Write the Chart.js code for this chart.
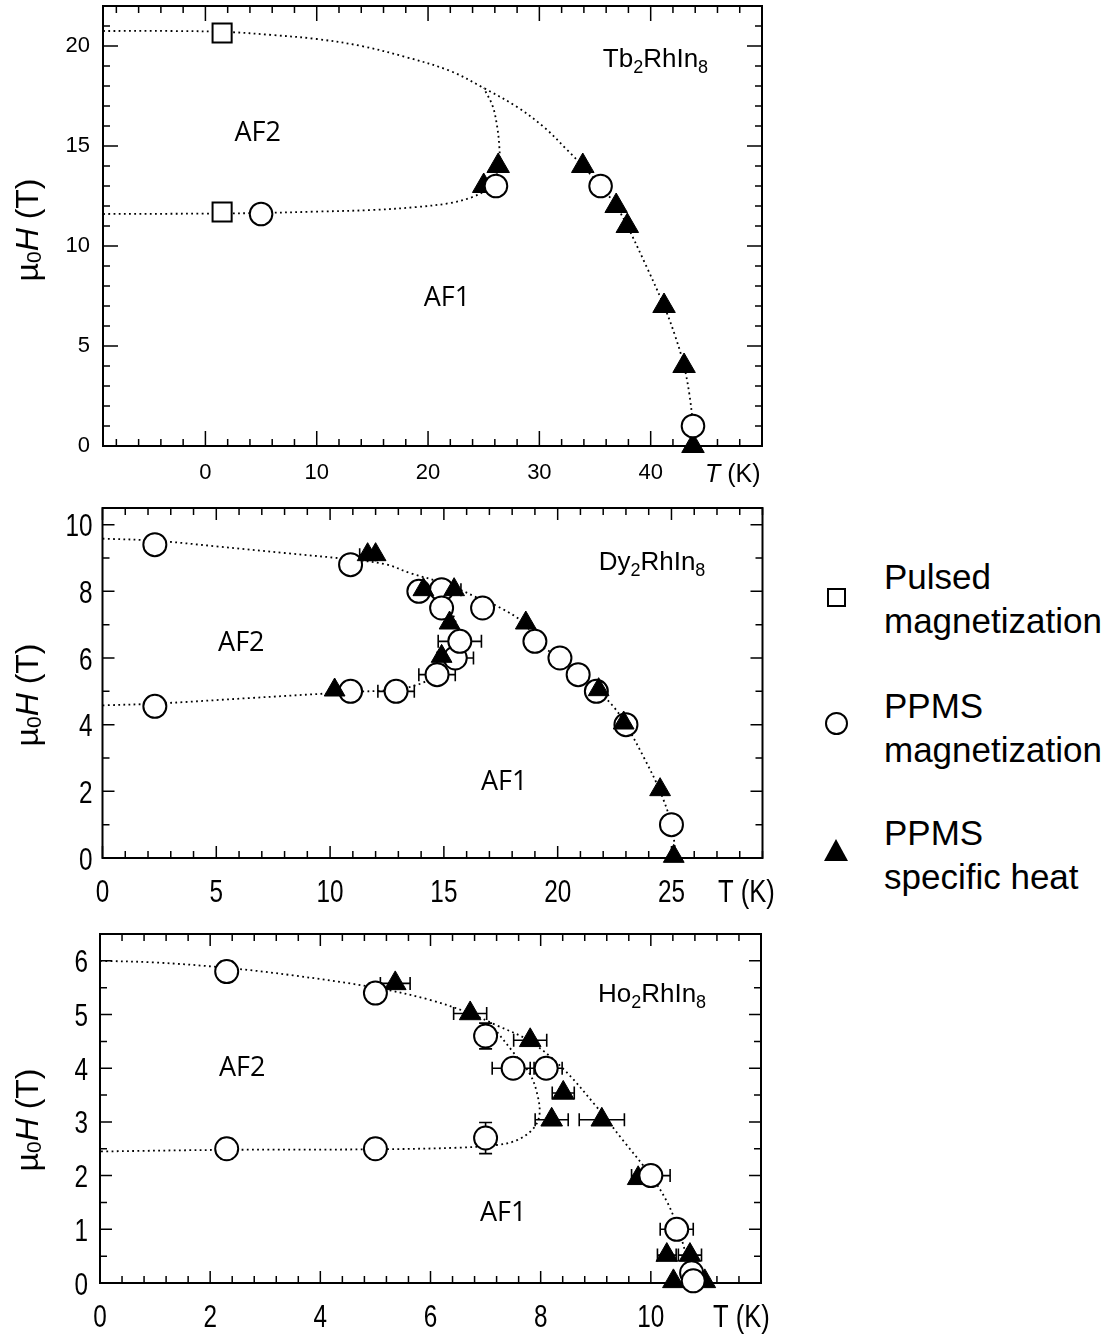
<!DOCTYPE html>
<html>
<head>
<meta charset="utf-8">
<script src="https://cdn.jsdelivr.net/npm/chart.js@4.4.1/dist/chart.umd.min.js"></script>
<style>
  body { margin: 0; background: #fff; width: 1115px; height: 1336px; position: relative; overflow: hidden; }
  .panel { position: absolute; left: 0; width: 800px; }
  #p1 { top: 0; height: 500px; }
  #p2 { top: 500px; height: 420px; }
  #p3 { top: 920px; height: 416px; }
  .sym { position: absolute; box-sizing: border-box; }
  .lt { position: absolute; left: 884px; font: 35px 'Liberation Sans', Arial, sans-serif; line-height: 35px; white-space: nowrap; color: #000; }
</style>
</head>
<body>
<div class="panel" id="p1"><canvas id="c1"></canvas></div>
<div class="panel" id="p2"><canvas id="c2"></canvas></div>
<div class="panel" id="p3"><canvas id="c3"></canvas></div>

<div class="sym" style="left:827px;top:588px;width:19px;height:19px;border:2px solid #000;"></div>
<div class="sym" style="left:825px;top:712px;width:23px;height:23px;border:2px solid #000;border-radius:50%;"></div>
<div class="sym" style="left:824px;top:839px;width:0;height:0;border-left:12.5px solid transparent;border-right:12.5px solid transparent;border-bottom:22px solid #000;"></div>
<div class="lt" style="top:559px">Pulsed</div>
<div class="lt" style="top:603px">magnetization</div>
<div class="lt" style="top:688px">PPMS</div>
<div class="lt" style="top:732px">magnetization</div>
<div class="lt" style="top:815px">PPMS</div>
<div class="lt" style="top:859px">specific heat</div>

<script>
const FONT_SANS = "'Liberation Sans', Arial, sans-serif";
const FONT_AF = "'Open Sans', 'Liberation Sans', sans-serif";

// ---------- Tb2RhIn8 ----------
const tbTicksX = [0, 10, 20, 30, 40];
const tbTicksY = [0, 5, 10, 15, 20];
const tbPulsed = [{x: 1.5, y: 20.65}, {x: 1.5, y: 11.7}];
const tbMagnet = [{x: 5.0, y: 11.6}, {x: 26.1, y: 13.0}, {x: 35.5, y: 13.0}, {x: 43.8, y: 1.0}];
const tbHeat = [
  {x: 25.0, y: 13.0}, {x: 26.3, y: 14.0}, {x: 33.9, y: 14.0}, {x: 36.9, y: 12.0},
  {x: 37.9, y: 11.0}, {x: 41.2, y: 7.0}, {x: 43.0, y: 4.0}, {x: 43.8, y: 0}
];
const tbUpperLine = [
  [-9.2, 20.75], [-3, 20.75], [2, 20.7], [6, 20.55], [10, 20.35], [14, 20.0], [18, 19.45],
  [22, 18.75], [25, 17.9], [28, 16.95], [30.5, 15.9], [32.5, 14.8], [33.9, 14.0], [35.5, 13.0],
  [36.9, 12.0], [37.9, 11.0], [39.6, 9.0], [41.2, 7.0], [42.2, 5.5], [43.0, 4.0], [43.5, 2.5],
  [43.8, 1.0], [43.9, 0]
];
const tbLowerLine = [
  [-9.2, 11.6], [0, 11.62], [5, 11.65], [10, 11.72], [15, 11.8], [19, 11.95], [22, 12.15],
  [24, 12.45], [25.3, 12.85], [26.0, 13.4], [26.4, 14.2], [26.4, 15.0], [26.2, 16.0],
  [25.8, 17.0], [25.0, 17.9]
];

// ---------- Dy2RhIn8 ----------
const dyTicksX = [0, 5, 10, 15, 20, 25];
const dyTicksY = [0, 2, 4, 6, 8, 10];
const dyMagnet = [
  {x: 2.3, y: 9.4}, {x: 2.3, y: 4.55}, {x: 10.9, y: 8.8}, {x: 10.9, y: 5.0},
  {x: 12.9, y: 5.0, xe: 0.8}, {x: 13.9, y: 8.0}, {x: 14.9, y: 8.05}, {x: 14.9, y: 7.5},
  {x: 14.7, y: 5.5, xe: 0.8}, {x: 15.5, y: 6.0, xe: 0.8}, {x: 15.7, y: 6.5, xe: 0.95},
  {x: 16.7, y: 7.5}, {x: 19.0, y: 6.5}, {x: 20.1, y: 6.0}, {x: 20.9, y: 5.5},
  {x: 21.7, y: 5.0}, {x: 23.0, y: 4.0}, {x: 25.0, y: 1.0}
];
const dyHeat = [
  {x: 11.65, y: 9.1, xe: 0.35}, {x: 12.0, y: 9.1}, {x: 14.1, y: 8.05, xe: 0.35},
  {x: 15.45, y: 8.05, xe: 0.3}, {x: 15.25, y: 7.05}, {x: 14.9, y: 6.05}, {x: 10.2, y: 5.04},
  {x: 18.6, y: 7.05}, {x: 21.8, y: 5.05}, {x: 22.9, y: 4.05}, {x: 24.5, y: 2.05}, {x: 25.1, y: 0.05}
];
const dyUpperLine = [
  [0, 9.58], [2.3, 9.52], [5, 9.35], [8, 9.15], [11, 8.95], [12.5, 8.8], [13.5, 8.55],
  [15.2, 8.2], [16.5, 7.8], [17.5, 7.5], [18.6, 7.0], [19.0, 6.5], [20.1, 6.0], [20.9, 5.5],
  [21.8, 5.0], [22.5, 4.5], [23.0, 4.0], [23.8, 3.0], [24.5, 2.0], [25.0, 1.0], [25.2, 0]
];
const dyLowerLine = [
  [0, 4.58], [2.3, 4.63], [6.5, 4.8], [10.2, 4.95], [11, 4.98], [13, 5.07], [14.2, 5.3],
  [14.9, 5.75], [15.4, 6.3], [15.6, 6.8], [15.4, 7.3], [15.1, 7.75], [14.9, 8.25]
];

// ---------- Ho2RhIn8 ----------
const hoTicksX = [0, 2, 4, 6, 8, 10];
const hoTicksY = [0, 1, 2, 3, 4, 5, 6];
const hoMagnet = [
  {x: 2.3, y: 5.8, ye: 0.19}, {x: 5.0, y: 5.4, ye: 0.19}, {x: 7.0, y: 4.6, ye: 0.24},
  {x: 7.5, y: 4.0, xe: 0.38}, {x: 8.1, y: 4.0, xe: 0.29}, {x: 7.0, y: 2.7, ye: 0.29},
  {x: 5.0, y: 2.5, ye: 0.19}, {x: 2.3, y: 2.5, ye: 0.19}, {x: 10.0, y: 2.0, xe: 0.35},
  {x: 10.47, y: 1.0, xe: 0.3}, {x: 10.74, y: 0.19}, {x: 10.77, y: 0.04}
];
const hoHeat = [
  {x: 5.36, y: 5.58, xe: 0.27}, {x: 6.72, y: 5.02, xe: 0.3}, {x: 7.81, y: 4.52, xe: 0.3},
  {x: 8.41, y: 3.54, xe: 0.2}, {x: 8.2, y: 3.04, xe: 0.3}, {x: 9.11, y: 3.04, xe: 0.41},
  {x: 9.77, y: 1.95}, {x: 10.29, y: 0.52, xe: 0.17}, {x: 10.71, y: 0.52, xe: 0.21},
  {x: 10.41, y: 0.03}, {x: 10.98, y: 0.03}
];
const hoUpperLine = [
  [0, 6.0], [1, 5.97], [2.3, 5.87], [3.5, 5.73], [5, 5.5], [6, 5.27], [6.72, 5.02], [7.2, 4.8],
  [7.81, 4.5], [8.4, 4.0], [9.0, 3.3], [9.5, 2.65], [10.0, 2.0], [10.3, 1.5], [10.5, 1.0],
  [10.65, 0.5], [10.8, 0]
];
const hoBranchLine = [
  [7.15, 4.75], [7.5, 4.3], [7.8, 3.9], [7.93, 3.55], [7.98, 3.15], [7.87, 2.88], [7.57, 2.66],
  [7.2, 2.57], [6.5, 2.52], [5, 2.49], [2.3, 2.48], [0, 2.45]
];

// draws a run of text pieces (font / vertical shift), optionally squeezed horizontally
function drawRich(ctx, parts, x, y, align, sx) {
  sx = sx || 1;
  let w = 0;
  parts.forEach(p => { ctx.font = p.font; w += ctx.measureText(p.t).width; });
  let cx = align === 'center' ? -w / 2 : align === 'right' ? -w : 0;
  ctx.save();
  ctx.translate(x, y);
  ctx.scale(sx, 1);
  parts.forEach(p => {
    ctx.font = p.font;
    ctx.fillText(p.t, cx, p.dy || 0);
    cx += ctx.measureText(p.t).width;
  });
  ctx.restore();
}

const framePlugin = {
  id: 'frame',
  beforeDatasetsDraw(chart, args, o) {
    const {ctx, chartArea: a, scales: {x, y}} = chart;
    ctx.save();
    ctx.strokeStyle = '#000';
    ctx.lineWidth = 1.5;
    ctx.beginPath();
    const isMajor = (v, list) => list.some(m => Math.abs(m - v) < 1e-6);
    for (let i = 0; ; i++) {
      const v = o.minorX0 + i * o.minorX;
      if (v > x.max + 1e-6) break;
      if (v < x.min) continue;
      const len = isMajor(v, o.ticksX) ? o.majorLen : o.minorLen;
      const px = x.getPixelForValue(v);
      ctx.moveTo(px, a.bottom); ctx.lineTo(px, a.bottom - len);
      ctx.moveTo(px, a.top); ctx.lineTo(px, a.top + len);
    }
    for (let i = 0; ; i++) {
      const v = y.min + i * o.minorY;
      if (v > y.max + 1e-6) break;
      const len = isMajor(v, o.ticksY) ? o.majorLen : o.minorLen;
      const py = y.getPixelForValue(v);
      ctx.moveTo(a.left, py); ctx.lineTo(a.left + len, py);
      ctx.moveTo(a.right, py); ctx.lineTo(a.right - len, py);
    }
    ctx.stroke();
    ctx.lineWidth = 2;
    ctx.strokeRect(a.left, a.top, a.right - a.left, a.bottom - a.top);

    // error bars (drawn under the markers)
    ctx.lineWidth = 1.6;
    ctx.beginPath();
    chart.data.datasets.forEach(ds => {
      ds.data.forEach(p => {
        const px = x.getPixelForValue(p.x), py = y.getPixelForValue(p.y);
        if (p.xe) {
          const l = x.getPixelForValue(p.x - p.xe), r = x.getPixelForValue(p.x + p.xe);
          ctx.moveTo(l, py); ctx.lineTo(r, py);
          ctx.moveTo(l, py - 6.5); ctx.lineTo(l, py + 6.5);
          ctx.moveTo(r, py - 6.5); ctx.lineTo(r, py + 6.5);
        }
        if (p.ye) {
          const t = y.getPixelForValue(p.y + p.ye), b = y.getPixelForValue(p.y - p.ye);
          ctx.moveTo(px, t); ctx.lineTo(px, b);
          ctx.moveTo(px - 6.5, t); ctx.lineTo(px + 6.5, t);
          ctx.moveTo(px - 6.5, b); ctx.lineTo(px + 6.5, b);
        }
      });
    });
    ctx.stroke();
    ctx.restore();
  },
  afterDraw(chart, args, o) {
    const {ctx, chartArea: a, scales: {x, y}} = chart;
    ctx.save();
    ctx.fillStyle = '#000';
    ctx.textBaseline = 'alphabetic';

    // condensed tick labels, placed by the chart's own scales
    if (o.squeeze) {
      const f = o.tickFont;
      x.ticks.forEach(t => {
        drawRich(ctx, [{t: String(t.value), font: f}], x.getPixelForValue(t.value), a.bottom + o.xLabelDy, 'center', o.squeeze);
      });
      y.ticks.forEach(t => {
        drawRich(ctx, [{t: String(t.value), font: f}], a.left - o.yLabelGap, y.getPixelForValue(t.value) + 11.5, 'right', o.squeeze);
      });
    }

    o.labels.forEach(l => {
      drawRich(ctx, [{t: l.t, font: l.font}], x.getPixelForValue(l.x), y.getPixelForValue(l.y), 'center');
    });
    const f = o.compoundFont, s = o.compoundSub;
    drawRich(ctx, [
      {t: o.compound, font: f}, {t: '2', font: s, dy: 6},
      {t: 'RhIn', font: f}, {t: '8', font: s, dy: 6}
    ], x.getPixelForValue(o.compoundAt[0]), y.getPixelForValue(o.compoundAt[1]), 'left');

    drawRich(ctx, o.xTitle, o.xTitleAt[0], o.xTitleAt[1], 'left', o.xTitleSqueeze);

    ctx.translate(o.yTitleAt[0], o.yTitleAt[1]);
    ctx.rotate(-Math.PI / 2);
    drawRich(ctx, [
      {t: 'µ', font: '32px ' + FONT_SANS}, {t: '0', font: '21px ' + FONT_SANS, dy: 3},
      {t: 'H', font: 'italic 32px ' + FONT_SANS}, {t: ' (T)', font: '32px ' + FONT_SANS}
    ], 0, 0, 'center');
    ctx.restore();
  }
};

function lineSet(pts) {
  return {
    data: pts.map(([x, y]) => ({x, y})), showLine: true, borderColor: '#000',
    borderWidth: 1.8, borderDash: [1.8, 3.4], pointRadius: 0, pointHoverRadius: 0,
    tension: 0.35, fill: false, order: 5, clip: false
  };
}
function markerSet(pts, style, fill, r, order) {
  return {
    data: pts, pointStyle: style, pointRadius: r, pointHoverRadius: r,
    pointBackgroundColor: fill, pointBorderColor: '#000', pointBorderWidth: fill === '#000' ? 1 : 2,
    showLine: false, order, clip: false
  };
}

function makePanel(id, p) {
  const tickOpts = {
    display: !p.frame.squeeze, font: {family: FONT_SANS, size: p.tickSize}, color: '#000',
    maxRotation: 0, autoSkip: false
  };
  new Chart(document.getElementById(id), {
    type: 'scatter',
    data: {datasets: p.datasets},
    options: {
      responsive: true, maintainAspectRatio: false, animation: false, devicePixelRatio: 1,
      events: [],
      layout: {padding: p.padding, autoPadding: false},
      plugins: {
        legend: {display: false}, tooltip: {enabled: false},
        frame: p.frame
      },
      scales: {
        x: {
          type: 'linear', min: p.xMin, max: p.xMax,
          afterBuildTicks: s => { s.ticks = p.frame.ticksX.map(v => ({value: v})); },
          afterFit: s => { s.height = 40; s.paddingLeft = 0; s.paddingRight = 0; },
          grid: {display: false, drawTicks: false}, border: {display: false},
          ticks: Object.assign({padding: p.xPad}, tickOpts)
        },
        y: {
          type: 'linear', min: 0, max: p.yMax,
          afterBuildTicks: s => { s.ticks = p.frame.ticksY.map(v => ({value: v})); },
          afterFit: s => { s.width = 60; s.paddingTop = 0; s.paddingBottom = 0; },
          grid: {display: false, drawTicks: false}, border: {display: false},
          ticks: Object.assign({padding: p.yPad}, tickOpts)
        }
      }
    },
    plugins: [framePlugin]
  });
}

const narrowTitle = [{t: 'T (K)', font: '32px ' + FONT_SANS}];

makePanel('c1', {
  xMin: -9.2, xMax: 50, yMax: 22,
  padding: {left: 43, right: 38, top: 6, bottom: 14},
  tickSize: 22, xPad: 14, yPad: 13,
  datasets: [
    lineSet(tbUpperLine), lineSet(tbLowerLine),
    markerSet(tbHeat, 'triangle', '#000', 13, 3),
    markerSet(tbMagnet, 'circle', '#fff', 11.3, 2),
    markerSet(tbPulsed, 'rect', '#fff', 13.5, 1)
  ],
  frame: {
    ticksX: tbTicksX, ticksY: tbTicksY, minorX0: -8, minorX: 2, minorY: 1, majorLen: 15, minorLen: 7,
    squeeze: 0,
    labels: [
      {t: 'AF2', x: 4.7, y: 15.25, font: '27px ' + FONT_AF},
      {t: 'AF1', x: 21.7, y: 7.0, font: '27px ' + FONT_AF}
    ],
    compound: 'Tb', compoundAt: [35.7, 18.97],
    compoundFont: '26px ' + FONT_SANS, compoundSub: '18px ' + FONT_SANS,
    xTitle: [{t: 'T', font: 'italic 25px ' + FONT_SANS}, {t: ' (K)', font: '25px ' + FONT_SANS}],
    xTitleAt: [705, 482], xTitleSqueeze: 1,
    yTitleAt: [38, 230]
  }
});

makePanel('c2', {
  xMin: 0, xMax: 29, yMax: 10.5,
  padding: {left: 42.5, right: 37.5, top: 8, bottom: 22},
  tickSize: 32, xPad: 14, yPad: 10,
  datasets: [
    lineSet(dyUpperLine), lineSet(dyLowerLine),
    markerSet(dyMagnet, 'circle', '#fff', 11.5, 3),
    markerSet(dyHeat, 'triangle', '#000', 12, 2)
  ],
  frame: {
    ticksX: dyTicksX, ticksY: dyTicksY, minorX0: 0, minorX: 1, minorY: 1, majorLen: 12, minorLen: 7,
    squeeze: 0.76, tickFont: '32px ' + FONT_SANS, xLabelDy: 43.5, yLabelGap: 10,
    labels: [
      {t: 'AF2', x: 6.1, y: 6.2, font: '27px ' + FONT_AF},
      {t: 'AF1', x: 17.65, y: 2.05, font: '27px ' + FONT_AF}
    ],
    compound: 'Dy', compoundAt: [21.8, 8.65],
    compoundFont: '26px ' + FONT_SANS, compoundSub: '18px ' + FONT_SANS,
    xTitle: narrowTitle, xTitleAt: [718, 402], xTitleSqueeze: 0.8,
    yTitleAt: [38, 195]
  }
});

makePanel('c3', {
  xMin: 0, xMax: 12, yMax: 6.5,
  padding: {left: 40, right: 39, top: 14, bottom: 13},
  tickSize: 32, xPad: 14, yPad: 12,
  datasets: [
    lineSet(hoUpperLine), lineSet(hoBranchLine),
    markerSet(hoHeat, 'triangle', '#000', 12.5, 3),
    markerSet(hoMagnet, 'circle', '#fff', 11.5, 2)
  ],
  frame: {
    ticksX: hoTicksX, ticksY: hoTicksY, minorX0: 0, minorX: 0.4, minorY: 0.5, majorLen: 12, minorLen: 7,
    squeeze: 0.76, tickFont: '32px ' + FONT_SANS, xLabelDy: 43.7, yLabelGap: 12,
    labels: [
      {t: 'AF2', x: 2.58, y: 3.85, font: '27px ' + FONT_AF},
      {t: 'AF1', x: 7.32, y: 1.16, font: '27px ' + FONT_AF}
    ],
    compound: 'Ho', compoundAt: [9.04, 5.23],
    compoundFont: '26px ' + FONT_SANS, compoundSub: '18px ' + FONT_SANS,
    xTitle: narrowTitle, xTitleAt: [713, 407], xTitleSqueeze: 0.8,
    yTitleAt: [38, 200]
  }
});
</script>
</body>
</html>
